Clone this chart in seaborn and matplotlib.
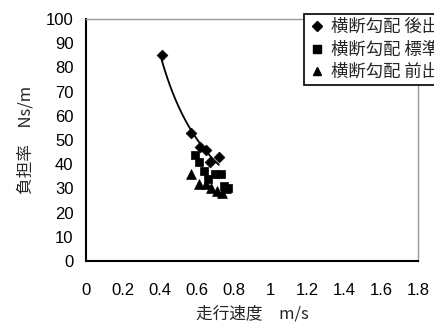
import numpy as np
import pandas as pd
import matplotlib
matplotlib.use("Agg")
import matplotlib.pyplot as plt
import seaborn as sns
from matplotlib.lines import Line2D

# Measured walking speed (m/s) and load ratio (Ns/m) for three cross-slope settings
rear_x = [0.41, 0.57, 0.62, 0.65, 0.67, 0.72]
rear_y = [85, 53, 47, 46, 41, 43]
std_x = [0.59, 0.61, 0.64, 0.66, 0.70, 0.73, 0.75, 0.77]
std_y = [44, 41, 37, 34, 36, 36, 31, 30]
front_x = [0.57, 0.61, 0.65, 0.68, 0.71, 0.74, 0.76]
front_y = [36, 32, 32, 30, 29, 28, 30]

labels = ["横断勾配 後出", "横断勾配 標準", "横断勾配 前出"]
x_ticks = [0, 0.2, 0.4, 0.6, 0.8, 1, 1.2, 1.4, 1.6, 1.8]
x_tick_labels = ["0", "0.2", "0.4", "0.6", "0.8", "1", "1.2", "1.4", "1.6", "1.8"]
y_ticks = list(range(0, 101, 10))

df = pd.concat([
    pd.DataFrame({"speed": rear_x, "ratio": rear_y, "group": labels[0]}),
    pd.DataFrame({"speed": std_x, "ratio": std_y, "group": labels[1]}),
    pd.DataFrame({"speed": front_x, "ratio": front_y, "group": labels[2]}),
])

sns.set_style("white")
plt.rcParams["font.family"] = ["Liberation Sans", "Noto Sans CJK JP", "DejaVu Sans"]

fig = plt.figure(figsize=(4.35, 3.27), dpi=100)
ax = fig.add_axes([86 / 435, 66 / 327, 332 / 435, 242 / 327])

markers = {labels[0]: "D", labels[1]: "s", labels[2]: "^"}
sizes = {labels[0]: 30, labels[1]: 40, labels[2]: 50}
for g in labels:
    sub = df[df.group == g]
    sns.scatterplot(data=sub, x="speed", y="ratio", marker=markers[g],
                    s=sizes[g], color="black", edgecolor="black",
                    linewidth=0.5, ax=ax, legend=False, zorder=3)

# Power-law trend line for the rear-slope series
bx = np.log(np.array(rear_x))
by = np.log(np.array(rear_y))
b, loga = np.polyfit(bx, by, 1)
xs = np.linspace(min(rear_x), max(rear_x), 100)
sns.lineplot(x=xs, y=np.exp(loga) * xs ** b, color="black", linewidth=1.3,
             ax=ax, legend=False, zorder=2)

ax.set_xlim(0, 1.8)
ax.set_ylim(0, 100)
ax.set_xticks(x_ticks)
ax.set_xticklabels(x_tick_labels)
ax.set_yticks(y_ticks)
ax.tick_params(axis="both", direction="in", length=4, width=1, colors="black",
               labelsize=12)
ax.tick_params(axis="x", pad=16)
ax.tick_params(axis="y", pad=9)

for side in ["left", "bottom"]:
    ax.spines[side].set_color("black")
    ax.spines[side].set_linewidth(1.5)
for side in ["top", "right"]:
    ax.spines[side].set_color("#9a9a9a")
    ax.spines[side].set_linewidth(1.0)

ax.set_xlabel("走行速度　m/s", fontsize=12, labelpad=5,
              family=["Noto Sans CJK JP", "DejaVu Sans"])
ax.set_ylabel("負担率　Ns/m", fontsize=12, labelpad=8,
              family=["Noto Sans CJK JP", "DejaVu Sans"])

handles = [
    Line2D([], [], marker="D", color="black", linestyle="none", markersize=5),
    Line2D([], [], marker="s", color="black", linestyle="none", markersize=6),
    Line2D([], [], marker="^", color="black", linestyle="none", markersize=6),
]
leg = fig.legend(handles, labels, loc="upper left",
                 bbox_to_anchor=(304 / 435, 1 - 14 / 327),
                 frameon=True, fancybox=False, framealpha=1,
                 edgecolor="black", borderpad=0.25, labelspacing=0.25,
                 handlelength=1.0, handletextpad=0.3, borderaxespad=0,
                 prop={"family": ["Noto Sans CJK JP", "DejaVu Sans"], "size": 12.5})
leg.get_frame().set_linewidth(1.2)

fig.savefig("out.png", dpi=100)
